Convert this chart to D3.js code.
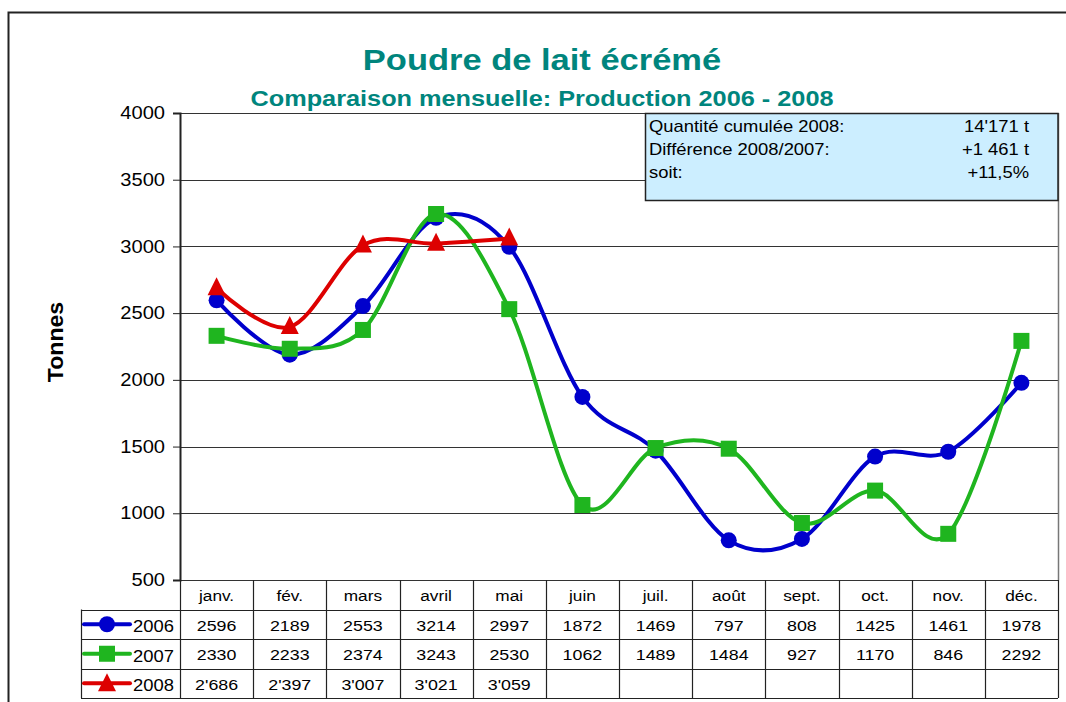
<!DOCTYPE html>
<html>
<head>
<meta charset="utf-8">
<script src="https://cdn.jsdelivr.net/npm/d3@7"></script>
<style>
  body { margin: 0; background: #fff; }
  svg { font-family: Arial, "Liberation Sans", sans-serif; }
</style>
</head>
<body>
<script>
// data
const months = ["janv.", "fév.", "mars", "avril", "mai", "juin", "juil.", "août", "sept.", "oct.", "nov.", "déc."];
const years = ["2006", "2007", "2008"];
const prod2006 = [2596, 2189, 2553, 3214, 2997, 1872, 1469, 797, 808, 1425, 1461, 1978];
const prod2007 = [2330, 2233, 2374, 3243, 2530, 1062, 1489, 1484, 927, 1170, 846, 2292];
const prod2008 = [2686, 2397, 3007, 3021, 3059];
const yTicks = [500, 1000, 1500, 2000, 2500, 3000, 3500, 4000];
const infoLabels = ["Quantité cumulée 2008:", "Différence 2008/2007:", "soit:"];
const infoValues = ["14'171 t", "+1 461 t", "+11,5%"];

const width = 1066, height = 702;
const plot = {left: 180, right: 1058, top: 113, bottom: 580};
const rowH = 29.5;
const legendLeft = 81;
const sx = 1.15; // the original text is a bit wider than Arial

const swiss = d3.formatLocale({decimal: ",", thousands: "'", grouping: [3]});
const fmt2008 = swiss.format(",d");

const series = [
  {name: years[0], values: prod2006, color: "#0000cc", marker: "circle", fmt: d3.format("d")},
  {name: years[1], values: prod2007, color: "#1fb51f", marker: "square", fmt: d3.format("d")},
  {name: years[2], values: prod2008, color: "#dd0000", marker: "triangle", fmt: fmt2008}
];

const svg = d3.select("body").append("svg")
    .attr("width", width)
    .attr("height", height);

const x = d3.scaleBand()
    .domain(months)
    .range([plot.left, plot.right]);
const y = d3.scaleLinear()
    .domain([500, 4000])
    .range([plot.bottom, plot.top]);

// stretched text helper
function label(g, tx, ty, str, size, anchor) {
  return g.append("text")
      .attr("transform", `translate(${tx},${ty}) scale(${sx},1)`)
      .attr("text-anchor", anchor || "start")
      .attr("font-size", size)
      .text(str);
}

// outer frame (left + top only are visible)
svg.append("path")
    .attr("d", `M8.5,${height}V12.5H${width}`)
    .attr("fill", "none")
    .attr("stroke", "#222")
    .attr("stroke-width", 2);

// titles
label(svg, 542, 70, "Poudre de lait écrémé", 30, "middle")
    .attr("font-weight", "bold").attr("fill", "#00857d");
label(svg, 542, 106, "Comparaison mensuelle: Production 2006 - 2008", 22, "middle")
    .attr("font-weight", "bold").attr("fill", "#00857d");

// grid
svg.append("g")
  .selectAll("line")
  .data(yTicks)
  .join("line")
    .attr("x1", plot.left).attr("x2", plot.right)
    .attr("y1", d => Math.round(y(d)) + 0.5).attr("y2", d => Math.round(y(d)) + 0.5)
    .attr("stroke", "#333")
    .attr("stroke-width", 1);

// plot right border
svg.append("line")
    .attr("x1", plot.right + 0.5).attr("x2", plot.right + 0.5)
    .attr("y1", plot.top).attr("y2", plot.bottom)
    .attr("stroke", "#777").attr("stroke-width", 1.5);

// y axis
const yAxis = svg.append("g")
    .attr("transform", `translate(${plot.left},0)`)
    .call(d3.axisLeft(y).tickValues(yTicks).tickSize(7).tickPadding(6).tickFormat(d3.format("d")));
yAxis.select(".domain").attr("stroke", "#222").attr("stroke-width", 2);
yAxis.selectAll(".tick line").attr("stroke", "#222");
yAxis.selectAll("text")
    .attr("font-size", 17.5)
    .attr("font-family", "Arial, 'Liberation Sans', sans-serif")
    .attr("fill", "#000")
    .attr("transform", `scale(${sx},1)`);

svg.append("text")
    .attr("transform", "translate(63,342) rotate(-90) scale(1.05,1)")
    .attr("text-anchor", "middle")
    .attr("font-size", 22).attr("font-weight", "bold")
    .text("Tonnes");

// info box
const info = svg.append("g");
info.append("rect")
    .attr("x", 645.5).attr("y", 113.5)
    .attr("width", plot.right - 645.5).attr("height", 87)
    .attr("fill", "#cceeff")
    .attr("stroke", "#222").attr("stroke-width", 1.5);
infoLabels.forEach((d, i) => label(info, 649, 132 + i * 23, d, 16));
infoValues.forEach((d, i) => label(info, 1029, 132 + i * 23, d, 16, "end"));

// markers
function drawMarker(g, type, color, cx, cy) {
  if (type === "circle") {
    g.append("circle").attr("cx", cx).attr("cy", cy).attr("r", 8).attr("fill", color);
  } else if (type === "square") {
    g.append("rect").attr("x", cx - 8).attr("y", cy - 8).attr("width", 16).attr("height", 16).attr("fill", color);
  } else {
    g.append("path")
      .attr("d", `M${cx},${cy - 11}L${cx + 9},${cy + 7}L${cx - 9},${cy + 7}Z`)
      .attr("fill", color);
  }
}

const line = d3.line()
    .x((d, i) => x(months[i]) + x.bandwidth() / 2)
    .y(d => y(d))
    .curve(d3.curveCardinal.tension(0));

series.forEach(s => {
  const g = svg.append("g");
  g.append("path")
      .attr("d", line(s.values))
      .attr("fill", "none")
      .attr("stroke", s.color)
      .attr("stroke-width", 4)
      .attr("stroke-linejoin", "round");
  s.values.forEach((v, i) => drawMarker(g, s.marker, s.color, x(months[i]) + x.bandwidth() / 2, y(v)));
});

// data table
const table = svg.append("g");
const tableTop = plot.bottom;
const tableBottom = tableTop + rowH * 4;

// month header
months.forEach(m => label(table, x(m) + x.bandwidth() / 2, tableTop + 21, m, 15, "middle"));

// vertical lines
const colEdges = months.map(m => x(m)).concat([plot.right]);
table.selectAll("line.col")
  .data(colEdges)
  .join("line")
    .attr("class", "col")
    .attr("x1", d => Math.round(d) + 0.5).attr("x2", d => Math.round(d) + 0.5)
    .attr("y1", tableTop).attr("y2", tableBottom)
    .attr("stroke", "#222").attr("stroke-width", 1.2);
table.append("line")
    .attr("x1", legendLeft + 0.5).attr("x2", legendLeft + 0.5)
    .attr("y1", tableTop + rowH).attr("y2", tableBottom)
    .attr("stroke", "#222").attr("stroke-width", 1.2);

// horizontal lines
d3.range(1, 5).forEach(k => {
  table.append("line")
    .attr("x1", legendLeft).attr("x2", plot.right)
    .attr("y1", Math.round(tableTop + k * rowH) + 0.5).attr("y2", Math.round(tableTop + k * rowH) + 0.5)
    .attr("stroke", "#222").attr("stroke-width", 1.2);
});

series.forEach((s, r) => {
  const rowY = tableTop + rowH * (r + 1);
  const cy = rowY + rowH / 2;
  table.append("line")
      .attr("x1", legendLeft + 3).attr("x2", legendLeft + 49)
      .attr("y1", cy).attr("y2", cy)
      .attr("stroke", s.color).attr("stroke-width", 4)
      .attr("stroke-linecap", "round");
  drawMarker(table, s.marker, s.color, legendLeft + 26, cy + (s.marker === "triangle" ? 1 : 0));
  label(table, legendLeft + 52, cy + 8, s.name, 16);
  s.values.forEach((v, i) => label(table, x(months[i]) + x.bandwidth() / 2, cy + 6.5, s.fmt(v), 15.5, "middle"));
});
</script>
</body>
</html>
